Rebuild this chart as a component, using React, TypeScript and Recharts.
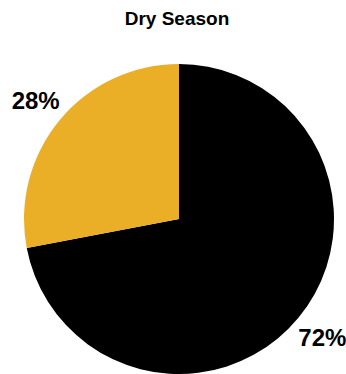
import React from "react";
import { PieChart, Pie, Cell } from "recharts";

const categories = ["Other", "Highlight"];
const values = [72, 28];
const colors = ["#000000", "#EAAF26"];
const title = "Dry Season";

const data = categories.map((name, i) => ({ name, value: values[i] }));

const RADIAN = Math.PI / 180;

const renderLabel = (props: any) => {
  const { cx, cy, midAngle, outerRadius, value } = props;
  const r = outerRadius + 31;
  const x = cx + r * Math.cos(-midAngle * RADIAN);
  const y = cy + r * Math.sin(-midAngle * RADIAN);
  return (
    <text
      x={x}
      y={y}
      textAnchor="middle"
      dominantBaseline="central"
      fontFamily="Liberation Sans, Arial, sans-serif"
      fontWeight="bold"
      fontSize={24}
      fill="#000"
    >
      {`${value}%`}
    </text>
  );
};

export default function App() {
  return (
    <div style={{ position: "absolute", left: 0, top: 0, width: 346, height: 374, background: "#fff" }}>
      <PieChart width={346} height={374} margin={{ top: 0, right: 0, bottom: 0, left: 0 }}>
        <text
          x={177}
          y={18}
          textAnchor="middle"
          dominantBaseline="central"
          fontFamily="Liberation Sans, Arial, sans-serif"
          fontWeight="bold"
          fontSize={19}
          fill="#000"
        >
          {title}
        </text>
        <Pie
          data={data}
          dataKey="value"
          nameKey="name"
          cx={179}
          cy={219}
          outerRadius={155}
          startAngle={90}
          endAngle={-270}
          stroke="none"
          label={renderLabel}
          labelLine={false}
          isAnimationActive={false}
        >
          {data.map((d, i) => (
            <Cell key={d.name} fill={colors[i]} />
          ))}
        </Pie>
      </PieChart>
    </div>
  );
}
